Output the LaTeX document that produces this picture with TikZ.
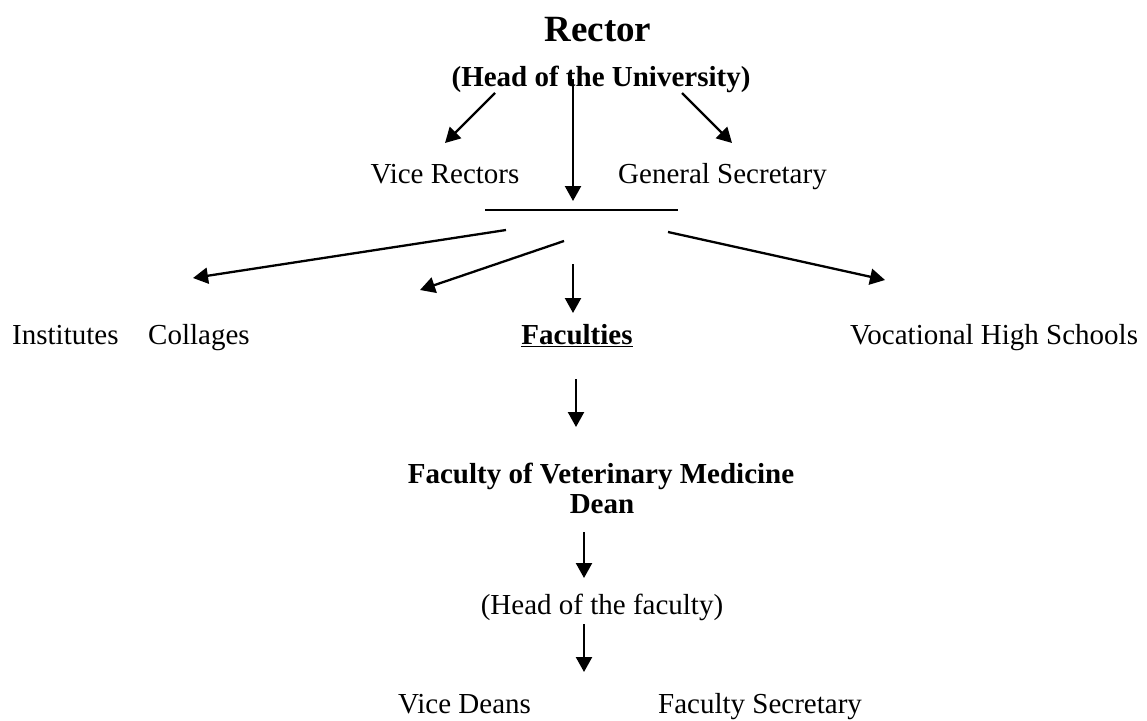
\documentclass[tikz,border=0pt]{standalone}
\usepackage{fontspec}
\setmainfont{Liberation Serif}
\usetikzlibrary{arrows.meta}
\begin{document}
\begin{tikzpicture}[x=1pt,y=-1pt,
  lbl/.style={inner sep=0pt,anchor=base,font=\fontsize{29}{34}\selectfont},
  blbl/.style={lbl,font=\fontsize{29}{34}\selectfont\bfseries},
  conn/.style={line width=2.3pt,-{Triangle[length=15pt,width=16pt]}},
  bar/.style={line width=2.3pt}]
\useasboundingbox (0,0) rectangle (1147,720);
% texts
\node[inner sep=0pt,anchor=base,font=\fontsize{37}{42}\selectfont\bfseries] (rector) at (598,41) {Rector};
\node[blbl] (headu) at (601,86) {(Head of the University)};
\node[lbl] (vr) at (445,183) {Vice Rectors};
\node[lbl,anchor=base west] (gs) at (618,183) {General Secretary};
\node[lbl,anchor=base west] (inst) at (12,344) {Institutes};
\node[lbl,anchor=base west] (coll) at (148,344) {Collages};
\node[blbl] (fac) at (577,344) {\underline{Faculties}};
\node[lbl,anchor=base west] (voc) at (850,344) {Vocational High Schools};
\node[blbl] (fvm) at (601,483) {Faculty of Veterinary Medicine};
\node[blbl] (dean) at (602,513) {Dean};
\node[lbl] (headf) at (602,614) {(Head of the faculty)};
\node[lbl,anchor=base west] (vd) at (398,713) {Vice Deans};
\node[lbl,anchor=base west] (fs) at (658,713) {Faculty Secretary};
% connector end points
\coordinate (r1) at (495,93);  \coordinate (vrT) at (445,143);
\coordinate (r2) at (682,93);  \coordinate (gsT) at (732,143);
\coordinate (r3) at (573,79);  \coordinate (barT) at (573,201);
\coordinate (barL) at (485,210); \coordinate (barR) at (678,210);
\coordinate (b1) at (506,230); \coordinate (instT) at (193,278);
\coordinate (b2) at (564,241); \coordinate (collT) at (420,290);
\coordinate (b3) at (573,264); \coordinate (facT) at (573,313);
\coordinate (b4) at (668,232); \coordinate (vocT) at (885,280);
\coordinate (f1) at (576,379); \coordinate (fvmT) at (576,427);
\coordinate (d1) at (584,532); \coordinate (headfT) at (584,578);
\coordinate (h1) at (584,624); \coordinate (vdT) at (584,672);
% connectors
\draw[conn] (r1) -- (vrT);
\draw[conn] (r2) -- (gsT);
\draw[conn] (r3) -- (barT);
\draw[bar] (barL) -- (barR);
\draw[conn] (b1) -- (instT);
\draw[conn] (b2) -- (collT);
\draw[conn] (b3) -- (facT);
\draw[conn] (b4) -- (vocT);
\draw[conn] (f1) -- (fvmT);
\draw[conn] (d1) -- (headfT);
\draw[conn] (h1) -- (vdT);
\end{tikzpicture}
\end{document}
